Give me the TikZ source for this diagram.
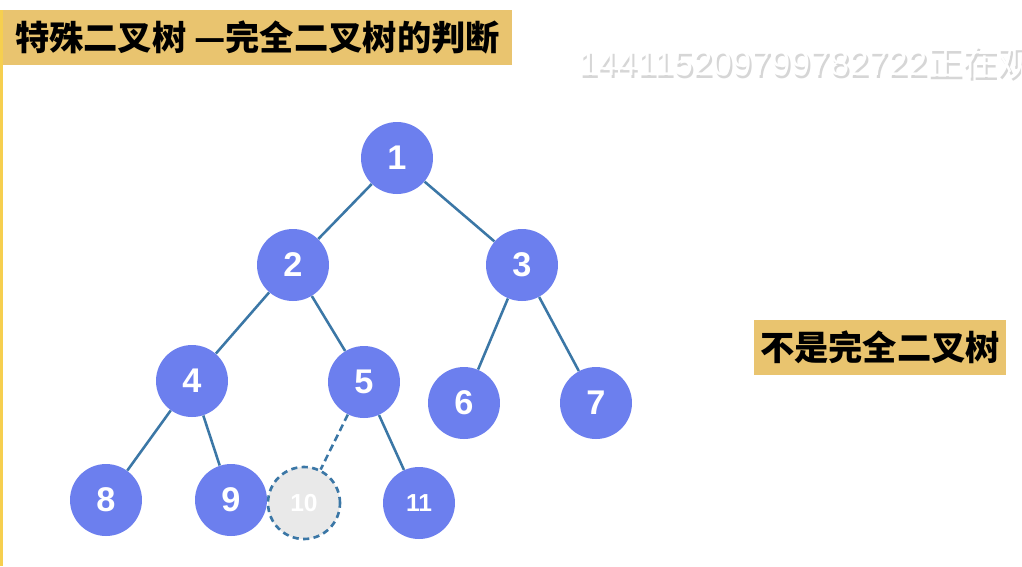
\documentclass[tikz,border=0pt]{standalone}
\usepackage{fontspec}
\setmainfont{Liberation Sans}
\newfontfamily\cjk{Noto Sans CJK SC}
\definecolor{nodeblue}{HTML}{6C7FEE}
\definecolor{edgeblue}{HTML}{3B77A6}
\definecolor{bannertan}{HTML}{E9C46F}
\definecolor{sidebar}{HTML}{F6CF4F}
\definecolor{ghost}{HTML}{E9E9E9}
\tikzset{
  tnode/.style={circle, fill=nodeblue, minimum size=1.44cm, inner sep=0pt,
    text=white, font=\bfseries\fontsize{19.5}{19.5}\selectfont},
  small/.style={font=\bfseries\fontsize{14}{14}\selectfont},
  missing/.style={tnode, fill=ghost, draw=edgeblue, line width=1.5pt,
    dash pattern=on 3.5pt off 2.5pt},
  tedge/.style={draw=edgeblue, line width=1.45pt},
  banner/.style={fill=bannertan, minimum height=1.1cm, inner sep=0pt,
    font=\cjk\bfseries\fontsize{19.5}{19.5}\selectfont}
}
\begin{document}
\begin{tikzpicture}[x=0.02cm, y=-0.02cm]
  \useasboundingbox[fill=white] (0,0) rectangle (1022,566);
  \fill[sidebar] (0,10) rectangle (3.5,566);
  % title and note
  \node (title) [banner, minimum width=10.18cm] at (257.5,37.5) {特殊二叉树 —完全二叉树的判断};
  \node (note) [banner, minimum width=5.04cm] at (880,347.5) {不是完全二叉树};
  % watermark
  \node (markshadow) [anchor=west, text=black!16, font=\fontsize{20}{20}\selectfont] at (574,65) {144115209799782722\cjk 正在观};
  \node (mark) [anchor=west, text=white, font=\fontsize{20}{20}\selectfont] at (572,62) {144115209799782722\cjk 正在观};
  % tree
  \node (n1) [tnode] at (397,158) {1};
  \node (n2) [tnode] at (293,265) {2};
  \node (n3) [tnode] at (522,265) {3};
  \node (n4) [tnode] at (192,381) {4};
  \node (n5) [tnode] at (364,382) {5};
  \node (n6) [tnode] at (464,403) {6};
  \node (n7) [tnode] at (596,403) {7};
  \node (n8) [tnode] at (106,500) {8};
  \node (n9) [tnode] at (231,500) {9};
  \node (n10) [missing, small] at (304,503) {10};
  \node (n11) [tnode, small] at (419,503) {11};
  \foreach \a/\b in {n1/n2, n1/n3, n2/n4, n2/n5, n3/n6, n3/n7, n4/n8, n4/n9, n5/n11}
    \draw[tedge] (\a) -- (\b);
  \draw[tedge, dash pattern=on 4pt off 2.4pt] (n5) -- (n10);
\end{tikzpicture}
\end{document}
